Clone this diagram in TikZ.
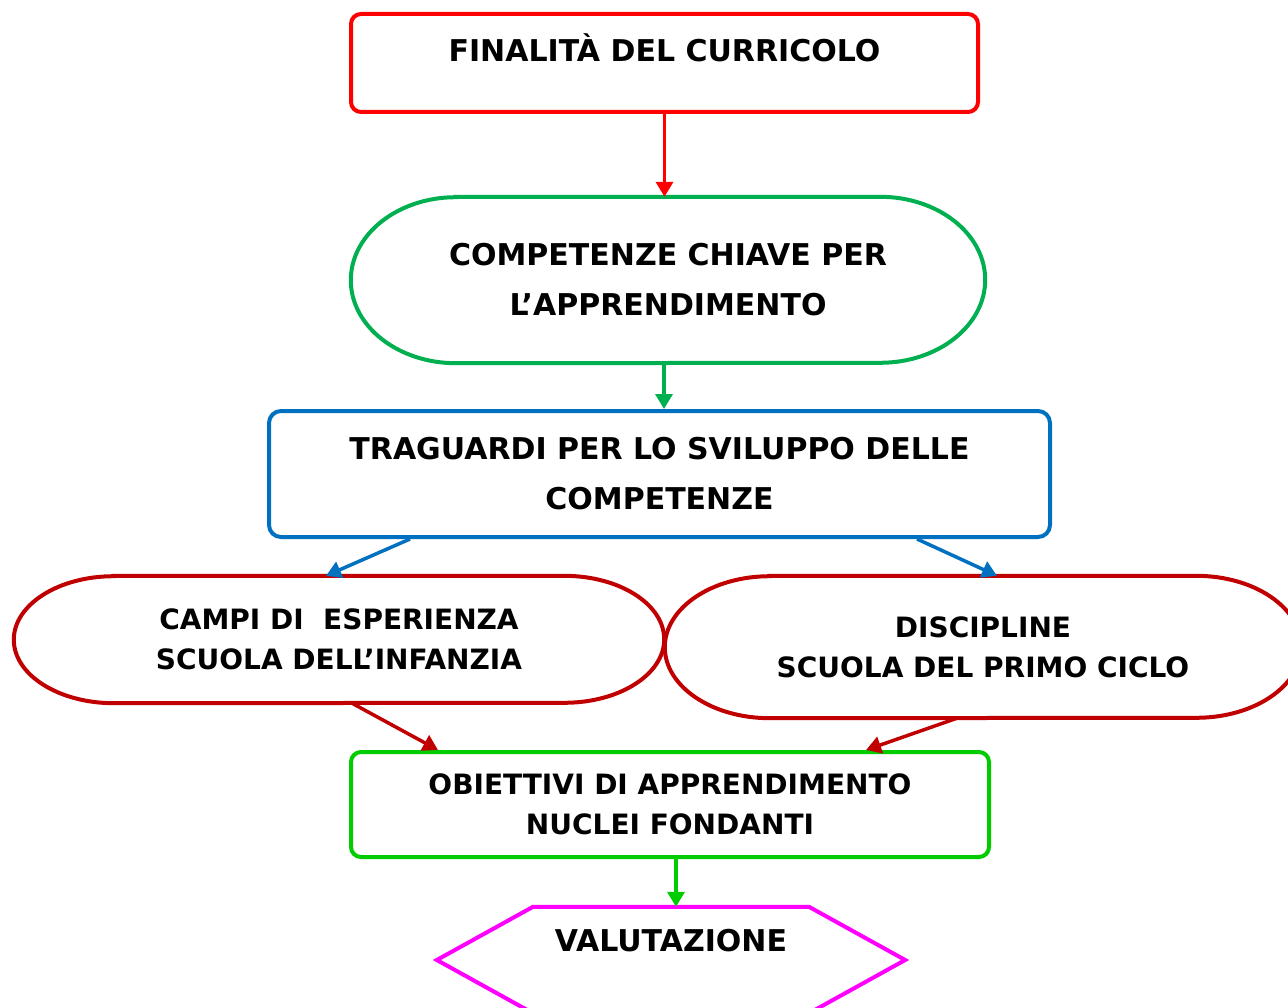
\documentclass[tikz,border=0pt]{standalone}
\usepackage{fontspec}
\setmainfont{DejaVu Sans}
\usetikzlibrary{arrows.meta, positioning}

\definecolor{rosso}{RGB}{255,0,0}
\definecolor{verdechiave}{RGB}{0,176,80}
\definecolor{blu}{RGB}{0,112,192}
\definecolor{rossoscuro}{RGB}{192,0,0}
\definecolor{verde}{RGB}{0,204,0}
\definecolor{magenta}{RGB}{255,0,255}

% outline with elliptic ends round a node
\newcommand{\Oval}[4]{%
  \draw[#1] ([xshift=#3]#2.north west) -- ([xshift=-#3]#2.north east)
    arc[start angle=90, end angle=-90, x radius=#3, y radius=#4]
    -- ([xshift=#3]#2.south west)
    arc[start angle=270, end angle=90, x radius=#3, y radius=#4] -- cycle;}

\begin{document}
\begin{tikzpicture}[x=1pt, y=-1pt,
    testo/.style={font=\fontsize{30}{50}\selectfont\bfseries, align=center, inner sep=0pt},
    testino/.style={font=\fontsize{28}{40}\selectfont\bfseries, align=center, inner sep=0pt},
    bordo/.style={line width=4pt},
    freccia/.style={line width=3.5pt, -{Triangle[width=17pt,length=15pt]}}]
  \useasboundingbox (0,0) rectangle (1288,1008);

  \node[testo, bordo, draw=rosso, rounded corners=10pt, minimum width=627pt,
        text height=48pt, text depth=50pt] (finalita) at (664.5,63) {FINALITÀ DEL CURRICOLO};
  \node[testo, minimum width=634pt, minimum height=166pt] (chiave) at (668,280)
        {COMPETENZE CHIAVE PER\\L’APPRENDIMENTO};
  \Oval{bordo, verdechiave}{chiave}{105pt}{83pt}
  \node[testo, bordo, draw=blu, rounded corners=12pt, minimum width=781pt,
        minimum height=126pt] (traguardi) at (659.5,474)
        {TRAGUARDI PER LO SVILUPPO DELLE\\COMPETENZE};
  \node[testino, minimum width=650pt, minimum height=127pt] (campi) at (339,639.5)
        {CAMPI DI\ \ ESPERIENZA\\SCUOLA DELL’INFANZIA};
  \Oval{bordo, rossoscuro}{campi}{100pt}{63.5pt}
  \node[testino, minimum width=636pt, minimum height=142pt] (discipline) at (983,647)
        {DISCIPLINE\\SCUOLA DEL PRIMO CICLO};
  \Oval{bordo, rossoscuro}{discipline}{105pt}{71pt}
  \node[testino, bordo, draw=verde, rounded corners=10pt, minimum width=638pt,
        minimum height=105pt] (obiettivi) at (670,804.5)
        {OBIETTIVI DI APPRENDIMENTO\\NUCLEI FONDANTI};
  \node[testo, minimum width=468pt, text height=44pt, text depth=62pt] (valutazione)
        at (671,960) {VALUTAZIONE};
  \draw[bordo, magenta] (valutazione.west) -- ([xshift=-138pt]valutazione.north)
    -- ([xshift=138pt]valutazione.north) -- (valutazione.east)
    -- ([xshift=138pt]valutazione.south) -- ([xshift=-138pt]valutazione.south) -- cycle;

  \draw[freccia, rosso] (finalita.south) -- (finalita.south |- chiave.north);
  \draw[freccia, verdechiave] ([xshift=-4pt]chiave.south) -- ([xshift=4.5pt]traguardi.north);
  \draw[freccia, blu] ([xshift=-249.5pt]traguardi.south) -- ([xshift=-13pt]campi.north);
  \draw[freccia, blu] ([xshift=257.5pt]traguardi.south) -- ([xshift=14pt]discipline.north);
  \draw[freccia, rossoscuro] ([xshift=13pt]campi.south) -- ([xshift=-232pt]obiettivi.north);
  \draw[freccia, rossoscuro] ([xshift=-26pt]discipline.south) -- ([xshift=196pt]obiettivi.north);
  \draw[freccia, verde] ([xshift=6pt]obiettivi.south) -- ([xshift=5pt]valutazione.north);
\end{tikzpicture}
\end{document}
